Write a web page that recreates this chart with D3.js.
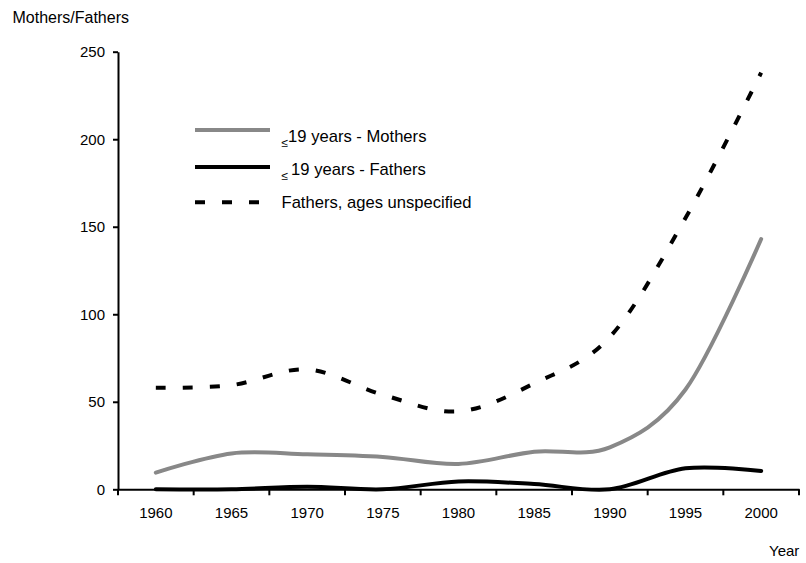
<!DOCTYPE html>
<html>
<head>
<meta charset="utf-8">
<script src="https://cdn.jsdelivr.net/npm/d3@7"></script>
<style>
  html, body { margin: 0; padding: 0; background: #fff; }
  svg { display: block; }
  text { font-family: "Liberation Sans", Arial, Helvetica, sans-serif; fill: #000; }
</style>
</head>
<body>
<svg id="chart" width="806" height="563"></svg>
<script>
// Years shown along the horizontal axis
const years = [1960, 1965, 1970, 1975, 1980, 1985, 1990, 1995, 2000];

// Series values per year
const mothers19 = [9.5, 20.5, 20, 18.5, 14.5, 21.5, 24, 57, 143];
const fathers19 = [0, 0, 1.5, 0, 4.5, 3, 0, 12, 10.5];
const fathersUnspecified = [58, 59.5, 68.5, 54, 44.5, 60.5, 87, 155, 238];

// Vertical axis ticks
const yTicks = [0, 50, 100, 150, 200, 250];

const svg = d3.select("#chart");

const x = d3.scaleBand().domain(years).range([118, 799]).padding(0);
const y = d3.scaleLinear().domain([0, 250]).range([489.3, 51.7]);

const cx = d => x(d) + x.bandwidth() / 2;

// Y axis
const yAxis = svg.append("g")
  .attr("transform", `translate(${x.range()[0]},0)`)
  .call(d3.axisLeft(y).tickValues(yTicks).tickSize(5).tickSizeOuter(0).tickPadding(8));
yAxis.selectAll("text").style("font-size", "15px");
yAxis.select(".domain").attr("stroke-width", 2);
yAxis.selectAll(".tick line").attr("stroke-width", 2);

// X axis: labels at category centres, ticks on category boundaries
const xAxis = svg.append("g")
  .attr("transform", `translate(0,${y(0)})`)
  .call(d3.axisBottom(x).tickSize(0).tickSizeOuter(0).tickPadding(18));
xAxis.selectAll("text").style("font-size", "15px");
xAxis.select(".domain").attr("stroke-width", 2);

const boundaries = years.map(d => x(d)).concat([x.range()[1]]);
xAxis.selectAll("line.bound")
  .data(boundaries)
  .enter().append("line")
  .attr("class", "bound")
  .attr("x1", d => d).attr("x2", d => d)
  .attr("y1", 0).attr("y2", 6)
  .attr("stroke", "#000").attr("stroke-width", 2);

// Axis titles
svg.append("text").attr("x", 12.5).attr("y", 22.7)
  .style("font-size", "16px").text("Mothers/Fathers");
svg.append("text").attr("x", 769).attr("y", 556)
  .style("font-size", "15px").text("Year");

// Smoothed series lines
const line = d3.line()
  .x((d, i) => cx(years[i]))
  .y(d => y(d))
  .curve(d3.curveCardinal.tension(0));

const series = [
  { values: fathersUnspecified, color: "#000", width: 4, dash: "10,17", cap: "butt" },
  { values: mothers19, color: "#888888", width: 4, dash: null, cap: "round" },
  { values: fathers19, color: "#000", width: 4, dash: null, cap: "round" }
];

svg.append("g").selectAll("path")
  .data(series)
  .enter().append("path")
  .attr("d", d => line(d.values))
  .attr("fill", "none")
  .attr("stroke", d => d.color)
  .attr("stroke-width", d => d.width)
  .attr("stroke-linecap", d => d.cap)
  .attr("stroke-dasharray", d => d.dash);

// Legend
const legend = svg.append("g");
const legendFont = "16.6px";

legend.append("line").attr("x1", 195).attr("x2", 270).attr("y1", 130).attr("y2", 130)
  .attr("stroke", "#888888").attr("stroke-width", 4);
const t1 = legend.append("text").attr("x", 281.5).attr("y", 141.7).style("font-size", legendFont);
t1.append("tspan").style("font-size", "12px").attr("dy", 5).text("≤");
t1.append("tspan").attr("dy", -5).text("19 years - Mothers");

legend.append("line").attr("x1", 195).attr("x2", 270).attr("y1", 167).attr("y2", 167)
  .attr("stroke", "#000").attr("stroke-width", 4);
const t2 = legend.append("text").attr("x", 281.5).attr("y", 175).style("font-size", legendFont);
t2.append("tspan").style("font-size", "12px").attr("dy", 5).text("≤");
t2.append("tspan").attr("dy", -5).attr("dx", 3).text("19 years - Fathers");

legend.append("line").attr("x1", 195).attr("x2", 262).attr("y1", 202.3).attr("y2", 202.3)
  .attr("stroke", "#000").attr("stroke-width", 4).attr("stroke-dasharray", "10,17");
legend.append("text").attr("x", 281.5).attr("y", 208.3).style("font-size", legendFont)
  .text("Fathers, ages unspecified");
</script>
</body>
</html>
